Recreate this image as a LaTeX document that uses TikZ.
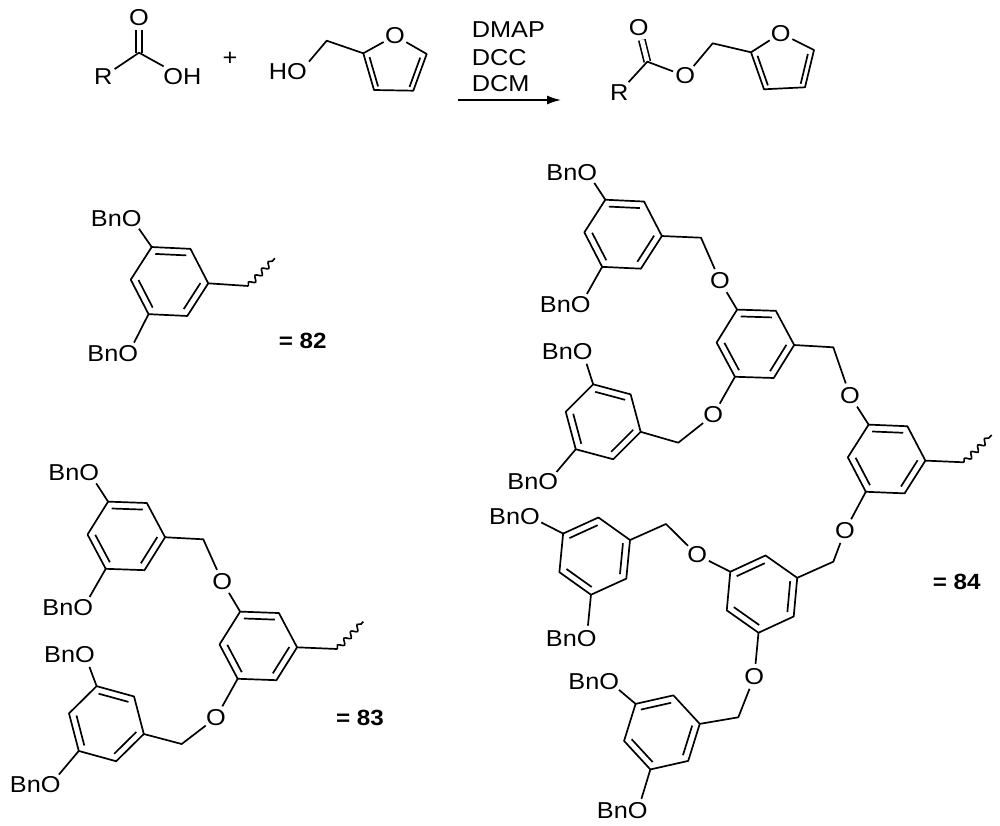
\documentclass[tikz,border=0pt]{standalone}
\usepackage{fontspec}
\setmainfont[FakeStretch=1.1]{Liberation Sans}
\usetikzlibrary{arrows.meta,calc,decorations.pathmorphing}

% inner line of a double bond, pulled towards the ring centre
\newcommand{\innerbond}[3]{\draw[bond] ($(#1)!.2!(#3)$) -- ($(#2)!.2!(#3)$);}
% benzene ring: name, centre, turn
\newcommand{\benzring}[3]{
	\coordinate (#1) at (#2);
	\foreach \k in {0,...,5}
	\coordinate (#1-\k) at ([shift={(#2)}]#3-60*\k:38.8);
	\draw[bond] (#1-0) -- (#1-1) -- (#1-2) -- (#1-3) -- (#1-4) -- (#1-5) -- cycle;
	\innerbond{#1-1}{#1-2}{#1}
	\innerbond{#1-3}{#1-4}{#1}
	\innerbond{#1-5}{#1-0}{#1}
}
% furan ring: name, O, then the four carbons
\newcommand{\furanring}[6]{
	\node[atom] (#1-o) at (#2) {O};
	\coordinate (#1-2) at (#3);
	\coordinate (#1-3) at (#4);
	\coordinate (#1-4) at (#5);
	\coordinate (#1-5) at (#6);
	\coordinate (#1) at (barycentric cs:#1-2=1,#1-3=1,#1-4=1,#1-5=1);
	\draw[bond] (#1-o) -- (#1-2) -- (#1-3) -- (#1-4) -- (#1-5) -- (#1-o);
	\innerbond{#1-2}{#1-3}{#1}
	\innerbond{#1-4}{#1-5}{#1}
}
% BnO label: name, right end of the text; name-o sits over the O
\newcommand{\bnlabel}[2]{
	\node[chemtext, anchor=east] (#1) at (#2) {BnO};
	\node[ohole] (#1-o) at ([xshift=-10pt]#1.east) {};
}

\begin{document}
\begin{tikzpicture}[
		x=1pt, y=-1pt,
		chemtext/.style = {inner sep=0pt, font=\fontsize{23}{26}\selectfont},
		atom/.style     = {chemtext, circle},
		tag/.style      = {inner sep=2pt, font=\fontsize{23}{26}\selectfont},
		ohole/.style    = {circle, inner sep=0pt, minimum size=25pt},
		number/.style   = {inner sep=0pt, font=\fontsize{22}{24}\selectfont\bfseries},
		bond/.style     = {line width=1.7pt, line join=round},
		dbond/.style    = {line width=1.6pt, double, double distance=4.6pt},
		wavy/.style     = {line width=1.6pt, decorate, decoration={snake, segment length=9.5pt, amplitude=2.6pt}},
		>={Latex[length=14pt, width=9pt]}]
		
		\useasboundingbox (0,0) rectangle (1000,826);
		
		% Acid
		\coordinate (acidc) at (139,52.7);
		\node[atom] (acido) at (139,17.3) {O};
		\node[tag] (acidr) at (103.3,76.7) {R};
		\node[tag] (acidoh) at (182.3,76.7) {OH};
		\draw[dbond] (acidc) -- (acido);
		\draw[bond] (acidr) -- (acidc) -- (acidoh);
		\node[chemtext] (plus) at (230,58.5) {+};
		
		% Furfuryl alcohol
		\furanring{fura}{395,35.7}{363.3,53.3}{374,90}{413.3,90.7}{426.7,54}
		\node[tag] (alcoh) at (287.8,72) {HO};
		\coordinate (alcm) at (326.7,40.7);
		\draw[bond] (alcoh.north east) -- (alcm) -- (fura-2);
		
		% Reagents and arrow
		\node[chemtext, anchor=west] (dmap) at (471.7,29.3) {DMAP};
		\node[chemtext, anchor=west] (dcc) at (471.7,57.3) {DCC};
		\node[chemtext, anchor=west] (dcm) at (471.7,84) {DCM};
		\coordinate (arra) at (458,100);
		\coordinate (arrb) at (561,100);
		\draw[->, line width=1.5pt] (arra) -- (arrb);
		
		% Ester
		\furanring{furb}{780.7,33.3}{751,52.3}{764,89.3}{805,87.3}{814,50}
		\coordinate (estc) at (647.3,61.7);
		\coordinate (estm) at (712.7,43.3);
		\node[atom] (esto) at (638.7,27.3) {O};
		\node[atom] (estl) at (685.3,76) {O};
		\node[tag] (estr) at (619.3,92.3) {R};
		\draw[dbond] (estc) -- (esto);
		\draw[bond] (estr) -- (estc) -- (estl) -- (estm) -- (furb-2);
		
		% 82
		\benzring{ra}{169.5,281.5}{2.7}
		\bnlabel{bna}{141.7,218.3}
		\bnlabel{bnb}{138.3,354}
		\coordinate (waa) at (248.3,286);
		\coordinate (wab) at (275,258.3);
		\draw[bond] (ra-2) -- (bna-o);
		\draw[bond] (ra-4) -- (bnb-o);
		\draw[bond] (ra-0) -- (waa);
		\draw[wavy] (waa) -- (wab);
		\node[number] (n82) at (302.7,340.7) {= 82};
		
		% 83
		\benzring{rb}{126.3,535.9}{2}
		\benzring{rc}{258.3,645.9}{2.1}
		\benzring{rd}{106.4,723.7}{15.4}
		\bnlabel{bnc}{99.3,472.7}
		\bnlabel{bnd}{93.3,608}
		\bnlabel{bne}{95,655}
		\bnlabel{bnf}{60.7,784.3}
		\node[atom] (oa) at (222.3,581.7) {O};
		\node[atom] (ob) at (216,717.7) {O};
		\coordinate (ma) at (203.3,539.3);
		\coordinate (mb) at (181.7,744);
		\coordinate (wba) at (337.3,649);
		\coordinate (wbb) at (363.3,621.7);
		\draw[bond] (rb-2) -- (bnc-o);
		\draw[bond] (rb-4) -- (bnd-o);
		\draw[bond] (rd-2) -- (bne-o);
		\draw[bond] (rd-4) -- (bnf-o);
		\draw[bond] (rb-0) -- (ma) -- (oa) -- (rc-2);
		\draw[bond] (rc-4) -- (ob) -- (mb) -- (rd-0);
		\draw[bond] (rc-0) -- (wba);
		\draw[wavy] (wba) -- (wbb);
		\node[number] (n83) at (360,717.7) {= 83};
		
		% 84, upper half
		\benzring{re}{623.1,234.2}{2.7}
		\benzring{rf}{755.4,343.8}{1.8}
		\benzring{rg}{603.2,421.8}{15}
		\benzring{rh}{886.6,459}{2.4}
		\bnlabel{bng}{597.3,172.3}
		\bnlabel{bnh}{590.7,305}
		\bnlabel{bni}{592.7,351.7}
		\bnlabel{bnj}{558.3,481.7}
		\node[atom] (oc) at (720,281) {O};
		\node[atom] (od) at (713.3,415) {O};
		\node[atom] (oe) at (850,395.7) {O};
		\coordinate (mc) at (701,237.7);
		\coordinate (md) at (678.3,442.7);
		\coordinate (me) at (833.3,347.3);
		\coordinate (wca) at (964,462.3);
		\coordinate (wcb) at (991.7,435);
		\draw[bond] (re-2) -- (bng-o);
		\draw[bond] (re-4) -- (bnh-o);
		\draw[bond] (rg-2) -- (bni-o);
		\draw[bond] (rg-4) -- (bnj-o);
		\draw[bond] (re-0) -- (mc) -- (oc) -- (rf-2);
		\draw[bond] (rf-4) -- (od) -- (md) -- (rg-0);
		\draw[bond] (rf-0) -- (me) -- (oe) -- (rh-2);
		\draw[bond] (rh-0) -- (wca);
		\draw[wavy] (wca) -- (wcb);
		
		% 84, lower half
		\benzring{ri}{762,594.1}{-24.8}
		\benzring{rj}{594.7,556.1}{-24.5}
		\benzring{rk}{661.9,732.4}{-12.7}
		\bnlabel{bnk}{540,516.7}
		\bnlabel{bnl}{596.7,638.3}
		\bnlabel{bnm}{619.3,681.7}
		\bnlabel{bnn}{647.7,811}
		\node[atom] (of) at (845,530.7) {O};
		\node[atom] (og) at (697.3,555) {O};
		\node[atom] (oh) at (754.3,676.7) {O};
		\coordinate (mf) at (833.3,561.7);
		\coordinate (mg) at (666,524);
		\coordinate (mh) at (738.3,717.3);
		\draw[bond] (rj-2) -- (bnk-o);
		\draw[bond] (rj-4) -- (bnl-o);
		\draw[bond] (rk-2) -- (bnm-o);
		\draw[bond] (rk-4) -- (bnn-o);
		\draw[bond] (rh-4) -- (of) -- (mf) -- (ri-0);
		\draw[bond] (ri-2) -- (og) -- (mg) -- (rj-0);
		\draw[bond] (ri-4) -- (oh) -- (mh) -- (rk-0);
		\node[number] (n84) at (956.7,581.7) {= 84};
		
	\end{tikzpicture}
\end{document}
